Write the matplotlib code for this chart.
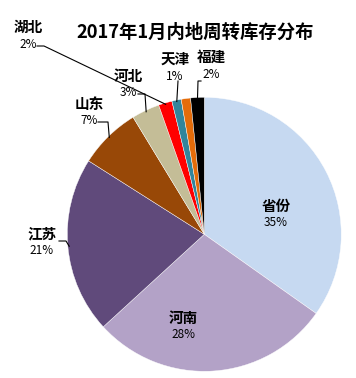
import matplotlib.pyplot as plt
import numpy as np

plt.rcParams['font.family'] = ['Noto Sans CJK SC', 'DejaVu Sans']

names = ["省份", "河南", "江苏", "山东", "河北", "湖北", "天津", "", "福建"]
values = [34.8, 28.4, 20.8, 7.3, 3.3, 1.6, 1.1, 1.1, 1.6]
colors = ["#C6D9F1", "#B3A2C7", "#604A7B", "#984807", "#C4BD97",
          "#FF0000", "#31859C", "#E46C0A", "#000000"]
title = "2017年1月内地周转库存分布"

# label centres in pixels (x, y of name line), None = inside label
label_px = [(276, 206), (183, 318), (42, 233), (89, 104), (128, 76),
            (28, 27), (175, 59), None, (211, 57)]
# leader: (x start of stub, x end of stub, y) in pixels
leader_px = [None, None, (59, 66, 241), (98, 108, 122), (138, 145, 94),
             (37, 44, 46), (178, 178, 81), None, (201, 198, 81)]

W, H = 356, 378
cx, cy, R = 204.3, 234.3, 137.0


def to_data(px, py):
    return (px - cx) / R, (cy - py) / R


def main():
    fig = plt.figure(figsize=(W / 100, H / 100), dpi=100)
    ax = fig.add_axes([(cx - R) / W, (H - cy - R) / H, 2 * R / W, 2 * R / H])
    wedges, _ = ax.pie(values, colors=colors, startangle=90, counterclock=False,
                       radius=1, wedgeprops=dict(linewidth=0.3, edgecolor="#ffffff"))
    ax.set_xlim(-1, 1)
    ax.set_ylim(-1, 1)
    ax.set_aspect("auto")
    ax.axis("off")

    total = sum(values)
    for i, w in enumerate(wedges):
        if label_px[i] is None:
            continue
        pct = "%d%%" % round(values[i] / total * 100)
        lx, ly = to_data(*label_px[i])
        ax.text(lx, ly, names[i], ha="center", va="center", fontsize=10.5,
                fontweight="bold", clip_on=False)
        ax.text(lx, ly - 17 / R, pct, ha="center", va="center", fontsize=8.5,
                clip_on=False)
        if leader_px[i] is not None:
            ang = np.deg2rad((w.theta1 + w.theta2) / 2)
            ex, ey = 0.99 * np.cos(ang), 0.99 * np.sin(ang)
            x0, x1, y = leader_px[i]
            sx, by = to_data(x0, y)
            bx, _ = to_data(x1, y)
            ax.plot([sx, bx, ex], [by, by, ey], color="black", lw=0.8,
                    clip_on=False)

    fig.text(195 / W, 1 - 32 / H, title, ha="center", va="center",
             fontsize=13.2, fontweight="bold")
    fig.savefig("out.png", dpi=100)


if __name__ == "__main__":
    main()
